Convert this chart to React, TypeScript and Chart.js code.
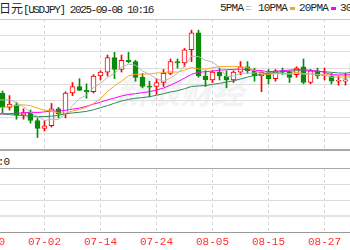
import React, { useEffect, useRef } from "react";
import { Chart, registerables } from "chart.js";

Chart.register(...registerables);

const dates = [
  "06-20", "06-23", "06-24", "06-25", "06-26", "06-27", "06-30", "07-01", "07-02", "07-03",
  "07-04", "07-07", "07-08", "07-09", "07-10", "07-11", "07-14", "07-15", "07-16", "07-17",
  "07-18", "07-21", "07-22", "07-23", "07-24", "07-25", "07-28", "07-29", "07-30", "07-31",
  "08-01", "08-04", "08-05", "08-06", "08-07", "08-08", "08-11", "08-12", "08-13", "08-14",
  "08-15", "08-18", "08-19", "08-20", "08-21", "08-22", "08-25", "08-26", "08-27", "08-28",
  "08-29", "09-01", "09-02",
];

const openP = [
  145.45, 146.3, 146.1, 145.0, 145.2, 144.4, 144.6, 144.0, 143.4, 143.6,
  144.9, 144.5, 146.1, 146.6, 146.3, 146.2, 147.4, 147.7, 148.8, 147.9,
  148.6, 148.5, 147.3, 146.6, 146.6, 146.9, 147.6, 148.5, 148.4, 149.4,
  150.7, 147.4, 147.1, 147.7, 147.4, 147.1, 147.7, 148.1, 147.8, 147.4,
  147.7, 147.2, 147.8, 147.7, 147.5, 148.1, 146.9, 147.8, 147.4, 147.4,
  147.0, 147.0, 147.1,
];
const highP = [
  146.2, 148.0, 146.25, 145.9, 145.4, 144.9, 144.8, 144.2, 144.0, 145.3,
  145.0, 146.2, 146.9, 147.2, 146.8, 147.5, 147.8, 149.0, 149.2, 149.0,
  149.2, 148.6, 147.6, 147.0, 147.2, 147.9, 148.7, 148.7, 149.5, 150.9,
  150.9, 147.8, 147.8, 148.0, 147.8, 147.8, 148.5, 148.5, 148.0, 147.8,
  147.9, 147.9, 148.0, 147.8, 148.1, 148.7, 147.9, 148.0, 148.0, 147.6,
  147.4, 147.6, 148.6,
];
const lowP = [
  145.0, 145.9, 144.6, 144.8, 144.1, 144.1, 143.8, 142.7, 143.2, 143.5,
  144.2, 144.2, 145.9, 146.3, 145.7, 146.1, 147.1, 147.4, 147.2, 147.7,
  148.4, 147.0, 146.5, 145.8, 146.0, 146.6, 147.5, 148.0, 148.1, 148.5,
  147.3, 146.6, 146.9, 147.1, 146.5, 146.9, 147.5, 147.6, 147.0, 146.2,
  146.8, 147.0, 147.5, 146.9, 147.3, 146.8, 146.8, 147.2, 147.1, 146.8,
  146.7, 146.7, 147.1,
];
const closeP = [
  146.1, 146.2, 145.0, 145.25, 144.4, 144.6, 144.0, 143.4, 143.6, 144.9,
  144.5, 146.1, 146.6, 146.3, 146.2, 147.4, 147.7, 148.8, 147.9, 148.6,
  148.5, 147.3, 146.6, 146.55, 146.9, 147.6, 148.5, 148.4, 149.4, 150.7,
  147.4, 147.1, 147.7, 147.4, 147.1, 147.7, 148.1, 147.8, 147.4, 147.7,
  147.2, 147.8, 147.7, 147.3, 148.0, 146.9, 147.8, 147.4, 147.42, 147.0,
  147.02, 147.1, 148.4,
];

const ma5 = [
  145.34, 145.64, 145.56, 145.58, 145.36, 145.06, 144.62, 144.32, 144.0, 144.1,
  144.08, 144.5, 145.14, 145.68, 145.94, 146.52, 146.84, 147.28, 147.6, 148.08,
  148.3, 148.22, 147.78, 147.52, 147.18, 147.0, 147.24, 147.6, 148.16, 148.92,
  148.88, 148.6, 148.46, 148.06, 147.34, 147.4, 147.6, 147.62, 147.62, 147.74,
  147.64, 147.58, 147.56, 147.54, 147.6, 147.54, 147.54, 147.48, 147.5, 147.3,
  147.32, 147.18, 147.38,
];
const ma10 = [
  144.84, 145.0, 145.0, 145.06, 145.15, 145.2, 145.13, 144.94, 144.79, 144.73,
  144.57, 144.56, 144.73, 144.84, 145.02, 145.3, 145.67, 146.21, 146.64, 147.01,
  147.41, 147.53, 147.53, 147.56, 147.63, 147.65, 147.73, 147.69, 147.84, 148.05,
  147.94, 147.92, 148.03, 148.11, 148.13, 148.14, 148.1, 148.04, 147.84, 147.54,
  147.52, 147.59, 147.59, 147.58, 147.67, 147.59, 147.56, 147.52, 147.52, 147.45,
  147.43, 147.36, 147.43,
];
const ma20 = [
  144.31, 144.48, 144.51, 144.53, 144.55, 144.58, 144.64, 144.61, 144.66, 144.73,
  144.71, 144.78, 144.87, 144.95, 145.09, 145.25, 145.4, 145.58, 145.72, 145.87,
  145.99, 146.05, 146.13, 146.2, 146.33, 146.48, 146.7, 146.95, 147.24, 147.53,
  147.68, 147.73, 147.78, 147.84, 147.88, 147.9, 147.92, 147.87, 147.84, 147.8,
  147.73, 147.76, 147.81, 147.85, 147.9, 147.87, 147.83, 147.78, 147.68, 147.5,
  147.48, 147.48, 147.51,
];
const ma30 = [
  144.66, 144.59, 144.5, 144.45, 144.41, 144.37, 144.34, 144.31, 144.3, 144.33,
  144.4, 144.51, 144.58, 144.63, 144.7, 144.82, 144.98, 145.14, 145.32, 145.49,
  145.61, 145.7, 145.75, 145.82, 145.93, 146.05, 146.18, 146.28, 146.42, 146.6,
  146.64, 146.67, 146.76, 146.84, 146.93, 147.03, 147.17, 147.31, 147.44, 147.53,
  147.62, 147.68, 147.72, 147.75, 147.81, 147.79, 147.8, 147.75, 147.73, 147.68,
  147.63, 147.62, 147.68,
];

const labelIdx = [0, 8, 16, 24, 32, 40, 48];
const priceGrid = [141.75, 143, 144.25, 145.5, 146.75, 148, 149.25, 150.5, 151.75];
const volGrid = [0, 1, 2, 3, 4];

const TITLE_CN = "美元兑日元";
const TITLE_EN = "[USDJPY] 2025-09-08 10:16";
const legendItems = [
  { name: "5PMA", color: "#c0c0c0", hollow: true },
  { name: "10PMA", color: "#f5a623", hollow: false },
  { name: "20PMA", color: "#ff00ff", hollow: false },
  { name: "30PMA", color: "#2e8b57", hollow: false },
];

const X_MIN = 8 - 44.5 / 7;
const X_MAX = X_MIN + 50;
const UP = "#ff0000";
const DOWN = "#0a8a0a";
const MONO = "'Liberation Mono', 'DejaVu Sans Mono', monospace";

const isUp = (i: number) => closeP[i] >= openP[i];

export default function App() {
  const mainRef = useRef<HTMLCanvasElement | null>(null);
  const volRef = useRef<HTMLCanvasElement | null>(null);

  useEffect(() => {
    const xScale = (showLabels: boolean) => ({
      type: "linear" as const,
      min: X_MIN,
      max: X_MAX,
      offset: false,
      grid: { color: "#d4d4d4", drawTicks: false, offset: false, lineWidth: 1 },
      border: { display: false, dash: [3, 3] },
      afterBuildTicks: (s: any) => {
        s.ticks = labelIdx.map((v) => ({ value: v }));
      },
      afterFit: (s: any) => {
        s.height = showLabels ? 18 : 0;
        s.paddingLeft = 0;
        s.paddingRight = 0;
      },
      ticks: {
        display: showLabels,
        autoSkip: false,
        maxRotation: 0,
        minRotation: 0,
        padding: 3,
        color: "#ff3030",
        font: { family: MONO, size: 11 },
        callback: (v: any) => dates[v as number] ?? "",
      },
    });

    const lineDs = (label: string, arr: number[], color: string) => ({
      type: "line" as const,
      label,
      data: arr.map((v, i) => ({ x: i, y: v })),
      borderColor: color,
      borderWidth: 1,
      pointRadius: 0,
      tension: 0,
      order: 0,
    });

    const main = new Chart(mainRef.current!, {
      type: "bar",
      data: {
        datasets: [
          lineDs("5PMA", ma5, "#b8b8b8"),
          lineDs("10PMA", ma10, "#f5a623"),
          lineDs("20PMA", ma20, "#ff00ff"),
          lineDs("30PMA", ma30, "#2e8b57"),
          {
            type: "bar",
            label: "body",
            data: openP.map((o, i) => ({ x: i, y: [o, closeP[i]] })) as any,
            barThickness: 5,
            minBarLength: 1,
            grouped: false,
            borderSkipped: false,
            borderWidth: 1,
            borderColor: (ctx: any) => (isUp(ctx.dataIndex) ? UP : DOWN),
            backgroundColor: (ctx: any) => (isUp(ctx.dataIndex) ? "#ffffff" : DOWN),
            order: 1,
          } as any,
          {
            type: "bar",
            label: "wick",
            data: lowP.map((l, i) => ({ x: i, y: [l, highP[i]] })) as any,
            barThickness: 1,
            grouped: false,
            borderWidth: 0,
            backgroundColor: (ctx: any) => (isUp(ctx.dataIndex) ? UP : DOWN),
            order: 2,
          } as any,
        ],
      },
      options: {
        responsive: false,
        animation: false,
        events: [],
        layout: { padding: { top: 19, bottom: 2, left: 0, right: 0 } },
        plugins: { legend: { display: false }, tooltip: { enabled: false } },
        scales: {
          x: xScale(false) as any,
          y: {
            type: "linear",
            min: priceGrid[0],
            max: priceGrid[priceGrid.length - 1],
            afterBuildTicks: (s: any) => {
              s.ticks = priceGrid.map((v) => ({ value: v }));
            },
            afterFit: (s: any) => {
              s.width = 0;
            },
            ticks: { display: false },
            border: { display: false },
            grid: {
              drawTicks: false,
              color: (ctx: any) =>
                ctx.index === 0 ? "#a8a8a8" : ctx.index === priceGrid.length - 1 ? "#c8c8c8" : "#dedede",
              lineWidth: (ctx: any) => (ctx.index === 0 ? 2 : 1),
            },
          } as any,
        },
      },
    });

    const vol = new Chart(volRef.current!, {
      type: "line",
      data: { datasets: [] },
      options: {
        responsive: false,
        animation: false,
        events: [],
        layout: { padding: { top: 8, bottom: 0, left: 0, right: 0 } },
        plugins: { legend: { display: false }, tooltip: { enabled: false } },
        scales: {
          x: xScale(true) as any,
          y: {
            type: "linear",
            min: volGrid[0],
            max: volGrid[volGrid.length - 1],
            afterBuildTicks: (s: any) => {
              s.ticks = volGrid.map((v) => ({ value: v }));
            },
            afterFit: (s: any) => {
              s.width = 0;
            },
            ticks: { display: false },
            border: { display: false },
            grid: {
              drawTicks: false,
              color: (ctx: any) =>
                ctx.index === 0 ? "#9a9a9a" : ctx.index === volGrid.length - 1 ? "#a8a8a8" : ctx.index === 1 ? "#e4e4e4" : "#dcdcdc",
              lineWidth: (ctx: any) => (ctx.index === 1 ? 2 : 1),
            },
          } as any,
        },
      },
    });

    return () => {
      main.destroy();
      vol.destroy();
    };
  }, []);

  return (
    <div
      style={{
        position: "absolute",
        left: 0,
        top: 0,
        width: 350,
        height: 250,
        overflow: "hidden",
        background: "#ffffff",
        fontFamily: MONO,
      }}
    >
      <div
        style={{
          position: "absolute",
          left: 116,
          top: 70,
          fontSize: 32,
          fontWeight: "bold",
          fontStyle: "italic",
          color: "#f3f3f3",
          fontFamily: "'Noto Sans CJK SC', sans-serif",
          whiteSpace: "nowrap",
          lineHeight: "40px",
        }}
      >
        新浪财经
      </div>
      <div
        style={{
          position: "absolute",
          right: 197,
          top: 2,
          lineHeight: "12px",
          color: "#222",
          whiteSpace: "nowrap",
        }}
      >
        <span style={{ fontSize: 12, fontFamily: "'Noto Sans CJK SC', sans-serif" }}>{TITLE_CN}</span>
        <span style={{ fontSize: 11, letterSpacing: "-1.4px" }}>{TITLE_EN}</span>
      </div>
      {legendItems.map((it, k) => (
        <div
          key={it.name}
          style={{
            position: "absolute",
            left: [220, 258, 299, 340][k],
            top: 2,
            fontSize: 11,
            lineHeight: "12px",
            letterSpacing: "-0.8px",
            color: "#222",
            whiteSpace: "nowrap",
            display: "flex",
            alignItems: "center",
          }}
        >
          <span>{it.name}</span>
          <span
            style={{
              display: "inline-block",
              width: 5,
              height: it.hollow ? 2 : 3,
              marginLeft: 3,
              background: it.hollow ? "#ffffff" : it.color,
              border: it.hollow ? `1px solid ${it.color}` : "none",
              borderLeft: "none",
              borderRight: "none",
            }}
          />
        </div>
      ))}
      <div
        style={{
          position: "absolute",
          right: 341,
          top: 154,
          fontSize: 11,
          lineHeight: "12px",
          color: "#222",
          whiteSpace: "nowrap",
        }}
      >
        <span style={{ fontFamily: "'Noto Sans CJK SC', sans-serif" }}>成交量</span>
        <span style={{ letterSpacing: "-1px" }}>:0</span>
      </div>
      <canvas ref={mainRef} width={350} height={152} style={{ position: "absolute", left: 0, top: 0 }} />
      <canvas ref={volRef} width={350} height={90} style={{ position: "absolute", left: 0, top: 160 }} />
    </div>
  );
}
